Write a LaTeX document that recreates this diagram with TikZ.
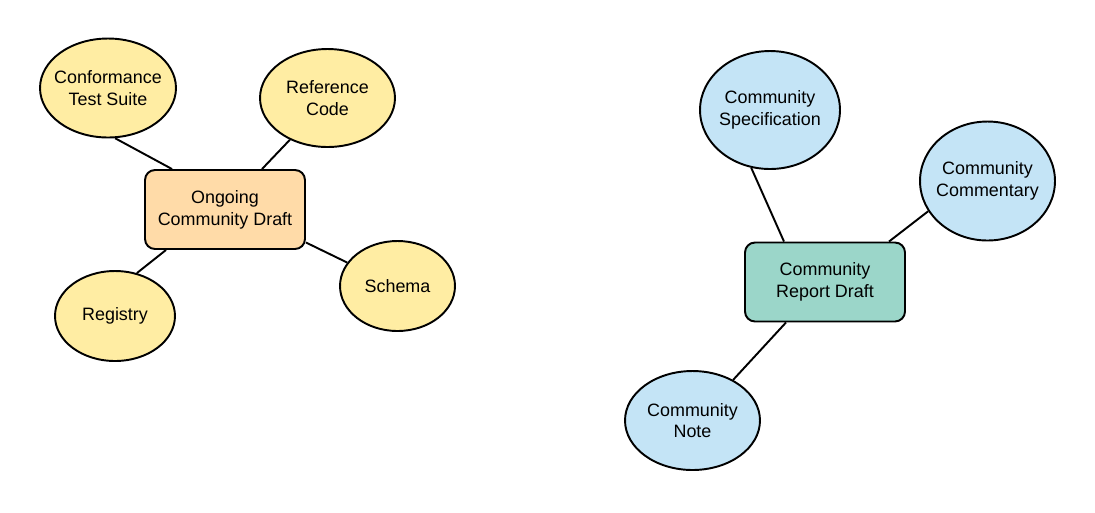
\documentclass[tikz,border=0pt]{standalone}
\usepackage{fontspec}
\setmainfont{Liberation Sans}
\usepackage{xcolor}
\usetikzlibrary{shapes.geometric}
\definecolor{draftorange}{HTML}{FFDBA8}
\definecolor{itemyellow}{HTML}{FFEDA3}
\definecolor{reportgreen}{HTML}{9BD6C9}
\definecolor{itemblue}{HTML}{C4E4F6}
\tikzset{
    draft-box/.style = {draw=black, line width=1.1pt, rectangle, rounded corners=0.2cm, minimum width=3.2cm, minimum height=1.58cm, align=center, inner sep=0pt, font=\fontsize{10.2}{12.4}\selectfont},
    item-ellipse/.style = {draw=black, line width=1.1pt, ellipse, align=center, inner sep=-0.12cm, font=\fontsize{10.2}{12.4}\selectfont},
    link/.style = {draw=black, line width=1.1pt},
}

\begin{document}
\begin{tikzpicture}[x=0.02cm, y=-0.02cm]
\useasboundingbox (0,0) rectangle (1095,512);
% left cluster
\node [draft-box, fill=draftorange] (ongoing) at (225,209.5) {Ongoing\\Community Draft};
\node [item-ellipse, fill=itemyellow, minimum width=2.72cm, minimum height=1.98cm] (conformance) at (108,88) {Conformance\\Test Suite};
\node [item-ellipse, fill=itemyellow, minimum width=2.7cm, minimum height=1.96cm] (refcode) at (327.5,98) {Reference\\Code};
\node [item-ellipse, fill=itemyellow, minimum width=2.4cm, minimum height=1.8cm] (registry) at (115,316) {Registry};
\node [item-ellipse, fill=itemyellow, minimum width=2.3cm, minimum height=1.8cm] (schema) at (397.5,286) {Schema};
\draw [link] (conformance.-82) -- ([xshift=0.56cm]ongoing.north west);
\draw [link] (refcode.-132) -- ([xshift=0.74cm]ongoing.north);
\draw [link] (registry.63) -- ([xshift=-1.18cm]ongoing.south);
\draw [link] (schema.155) -- ([yshift=-0.66cm]ongoing.east);
% right cluster
\node [draft-box, fill=reportgreen] (report) at (825,282) {Community\\Report Draft};
\node [item-ellipse, fill=itemblue, minimum width=2.8cm, minimum height=2.36cm] (specification) at (770,110) {Community\\Specification};
\node [item-ellipse, fill=itemblue, minimum width=2.7cm, minimum height=2.38cm] (commentary) at (987.5,181) {Community\\Commentary};
\node [item-ellipse, fill=itemblue, minimum width=2.7cm, minimum height=1.98cm] (note) at (692.5,420.5) {Community\\Note};
\draw [link] (specification.-108) -- ([xshift=-0.82cm]report.north);
\draw [link] (commentary.-153) -- ([xshift=1.28cm]report.north);
\draw [link] (note.45) -- ([xshift=-0.78cm]report.south);
\end{tikzpicture}
\end{document}
